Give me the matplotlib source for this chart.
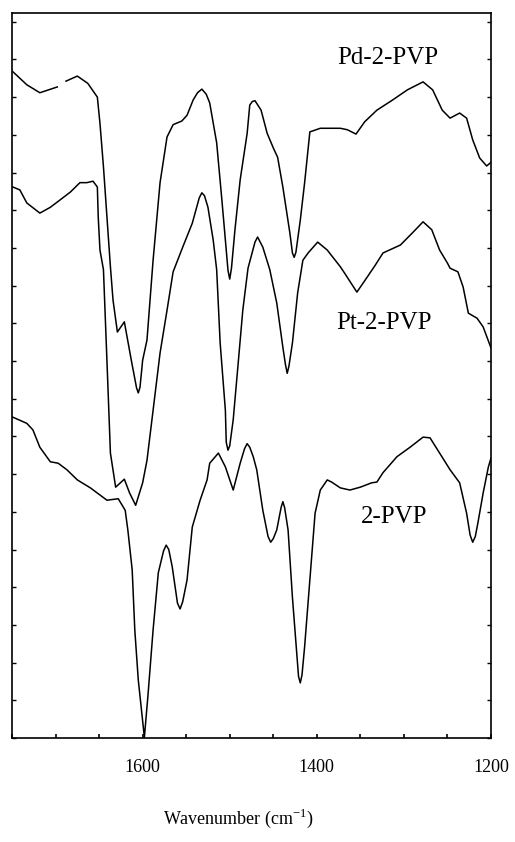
import numpy as np
import matplotlib
matplotlib.use("Agg")
import matplotlib.pyplot as plt
from matplotlib.ticker import MultipleLocator, FixedLocator

plt.rcParams["font.family"] = ["Liberation Serif", "DejaVu Serif"]

# IR spectra, wavenumber (cm-1) vs transmittance (arbitrary units, curves offset)
pd_wn = [1749, 1733, 1718, 1698, 1692, 1688, 1675, 1663, 1652, 1649, 1645, 1641,
         1637, 1634, 1629, 1621, 1613, 1607, 1605, 1603, 1600, 1595, 1588, 1580,
         1572, 1565, 1555, 1549, 1542, 1537, 1532, 1527, 1523, 1515, 1509, 1504,
         1502, 1500, 1498, 1494, 1488, 1480, 1477, 1474, 1471, 1464, 1457, 1450,
         1445, 1439, 1431, 1428, 1426, 1424, 1419, 1414, 1408, 1396, 1373, 1365,
         1355, 1345, 1331, 1313, 1296, 1278, 1267, 1256, 1247, 1236, 1228, 1221,
         1213, 1205, 1200]
pd_t = [91.9, 90.1, 89.0, 89.8, np.nan, 90.6, 91.3, 90.3, 88.4, 84.8, 78.8, 71.9,
        65.0, 60.4, 56.0, 57.4, 52.1, 48.3, 47.6, 48.4, 52.1, 54.9, 65.9, 76.6,
        82.9, 84.6, 85.1, 85.9, 88.0, 89.0, 89.5, 88.8, 87.6, 82.1, 74.2, 67.3,
        64.5, 63.3, 64.8, 70.1, 77.0, 83.4, 87.3, 87.8, 87.9, 86.6, 83.4, 81.4,
        80.1, 76.0, 69.7, 66.9, 66.3, 67.0, 71.4, 76.6, 83.6, 84.1, 84.1, 83.9,
        83.3, 85.0, 86.6, 88.0, 89.4, 90.5, 89.4, 86.6, 85.5, 86.2, 85.5, 82.5,
        80.0, 78.9, 79.4]

pt_wn = [1749, 1741, 1733, 1718, 1706, 1695, 1683, 1672, 1664, 1657, 1652, 1651,
         1649, 1645, 1641, 1637, 1631, 1621, 1615, 1608, 1600, 1595, 1588, 1580,
         1572, 1565, 1554, 1543, 1535, 1532, 1529, 1525, 1519, 1515, 1511, 1505,
         1504, 1502, 1500, 1496, 1490, 1485, 1479, 1471, 1468, 1462, 1454, 1446,
         1439, 1436, 1434, 1432, 1428, 1422, 1416, 1410, 1399, 1388, 1373, 1368,
         1354, 1342, 1333, 1324, 1304, 1290, 1278, 1268, 1259, 1250, 1247, 1238,
         1232, 1226, 1216, 1209, 1200]
pt_t = [76.0, 75.6, 73.8, 72.4, 73.2, 74.2, 75.3, 76.6, 76.6, 76.8, 76.0, 71.9,
        67.3, 64.6, 52.1, 39.3, 34.6, 35.7, 33.8, 32.1, 35.2, 38.3, 45.2, 53.1,
        59.0, 64.3, 67.7, 71.0, 74.5, 75.2, 74.8, 73.2, 68.7, 64.6, 54.5, 45.2,
        40.8, 39.7, 40.3, 43.9, 52.1, 59.0, 64.8, 68.4, 69.1, 67.7, 64.6, 60.0,
        53.9, 51.5, 50.3, 51.3, 54.5, 61.4, 65.9, 66.9, 68.4, 67.3, 65.0, 64.1,
        61.5, 63.6, 65.2, 66.9, 68.0, 69.7, 71.2, 70.1, 67.3, 65.5, 64.8, 64.3,
        62.2, 58.6, 57.9, 56.7, 53.8]

pvp_wn = [1750, 1733, 1726, 1718, 1706, 1697, 1687, 1675, 1660, 1641, 1628, 1620,
          1617, 1612, 1609, 1605, 1598, 1594, 1588, 1582, 1576, 1573, 1570, 1566,
          1560, 1557, 1554, 1549, 1543, 1534, 1526, 1523, 1513, 1505, 1496, 1488,
          1483, 1480, 1477, 1473, 1469, 1462, 1456, 1453, 1450, 1446, 1441, 1439,
          1437, 1433, 1428, 1421, 1419, 1417, 1414, 1408, 1402, 1396, 1388, 1383,
          1373, 1362, 1350, 1337, 1331, 1324, 1308, 1293, 1278, 1270, 1259, 1247,
          1236, 1228, 1224, 1221, 1218, 1215, 1209, 1203, 1200]
pvp_t = [44.3, 43.4, 42.5, 40.1, 38.1, 37.9, 37.0, 35.6, 34.5, 32.8, 33.0, 31.4,
         28.7, 23.2, 14.9, 8.0, 0.1, 5.7, 14.9, 22.8, 25.8, 26.6, 26.0, 23.6,
         18.6, 17.8, 18.8, 21.8, 29.1, 32.8, 35.6, 37.9, 39.3, 37.4, 34.2, 37.9,
         39.9, 40.6, 40.1, 38.8, 37.0, 31.4, 27.8, 27.0, 27.5, 28.7, 31.8, 32.6,
         31.8, 28.7, 19.4, 8.5, 7.6, 8.7, 12.6, 21.8, 31.0, 34.2, 35.6, 35.3,
         34.5, 34.2, 34.6, 35.2, 35.3, 36.6, 38.8, 40.1, 41.5, 41.4, 39.3, 37.0,
         35.2, 31.0, 28.0, 27.0, 27.8, 29.7, 33.8, 37.4, 38.6]

labels = ["Pd-2-PVP", "Pt-2-PVP", "2-PVP"]
label_pos = [(1318, 93.8), (1323, 57.2), (1311, 30.5)]

fig = plt.figure(figsize=(5.15, 8.42), dpi=100)
ax = fig.add_axes([12 / 515, 104 / 842, 479 / 515, 725 / 842])

for wn, t in [(pd_wn, pd_t), (pt_wn, pt_t), (pvp_wn, pvp_t)]:
    ax.plot(wn, t, color="black", linewidth=1.1, solid_joinstyle="round")

for text, (x, y) in zip(labels, label_pos):
    ax.text(x, y, text, fontsize=18, ha="center", va="center")

ax.set_xlim(1750, 1200)
ax.set_ylim(0, 100)
ax.xaxis.set_major_locator(FixedLocator([1600, 1400, 1200]))
ax.xaxis.set_minor_locator(MultipleLocator(50))
ax.yaxis.set_major_locator(MultipleLocator(5.2))
ax.tick_params(axis="x", which="both", direction="in", length=3, width=1.2,
               labelsize=13, pad=15)
ax.tick_params(axis="y", which="both", direction="in", length=3, width=1,
               left=True, right=True, labelleft=False)
for s in ax.spines.values():
    s.set_linewidth(1.2)

fig.text(238 / 515, 1 - 818 / 842, "Wavenumber (cm$^{\\mathregular{-1}}$)",
         fontsize=13, ha="center", va="center")

fig.savefig("out.png", dpi=100)
